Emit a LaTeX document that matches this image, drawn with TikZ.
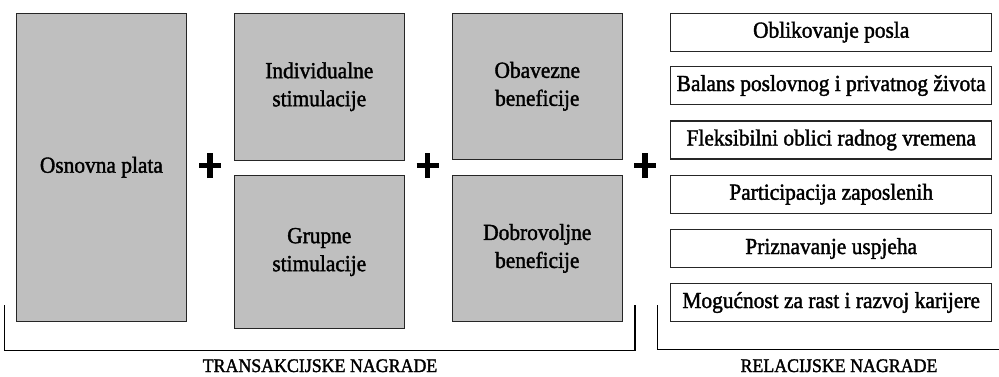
\documentclass[tikz,border=0pt]{standalone}
\usepackage{fontspec}
\setmainfont{Liberation Serif}[FakeStretch=0.93,FakeBold=1.6]
\begin{document}
\begin{tikzpicture}[x=1pt,y=-1pt,
  graybox/.style={draw=black!85,line width=1.1pt,fill=black!25,align=center,inner sep=0pt,
    font=\fontsize{23}{28}\selectfont},
  wbox/.style={draw=black!85,line width=1.1pt,fill=white,inner sep=0pt,minimum width=321pt,minimum height=38pt,
    font=\fontsize{23}{28}\selectfont},
  plusmark/.style={line width=5.5pt,black},
  bracketline/.style={line width=1.5pt,black},
  lbl/.style={anchor=base,inner sep=0pt,font=\fontsize{19.2}{22}\selectfont}]
\useasboundingbox (0,0) rectangle (999,376);
% transactional boxes
\node[graybox,minimum width=169.3pt,minimum height=307.7pt] (osn) at (101.4,167.2) {Osnovna plata};
\node[graybox,minimum width=170pt,minimum height=146.7pt] (ind) at (319.3,86.7) {Individualne\\stimulacije};
\node[graybox,minimum width=170pt,minimum height=152.6pt] (grp) at (319.3,252) {Grupne\\stimulacije};
\node[graybox,minimum width=170pt,minimum height=146pt] (oba) at (537.3,86.3) {Obavezne\\beneficije};
\node[graybox,minimum width=170pt,minimum height=145.3pt] (dob) at (537.3,248.4) {Dobrovoljne\\beneficije};
% relational boxes
\node[wbox] (r1) at (831.2,32.2) {Oblikovanje posla};
\node[wbox] (r2) at (831.2,85.5) {Balans poslovnog i privatnog života};
\node[wbox] (r3) at (831.2,140) {Fleksibilni oblici radnog vremena};
\node[wbox] (r4) at (831.2,194.2) {Participacija zaposlenih};
\node[wbox] (r5) at (831.2,248.5) {Priznavanje uspjeha};
\node[wbox] (r6) at (831.2,302.5) {Mogućnost za rast i razvoj karijere};
% plus signs
\coordinate (p1) at (210,165.5);
\coordinate (p2) at (427.5,165.5);
\coordinate (p3) at (645,165.5);
\foreach \p in {p1,p2,p3}{
  \draw[plusmark] ([xshift=-11pt]\p) -- ([xshift=11pt]\p);
  \draw[plusmark] ([yshift=-12.5pt]\p) -- ([yshift=12.5pt]\p);
}
% brackets
\coordinate (ta) at (4.7,305);
\coordinate (tb) at (4.7,350.5);
\coordinate (tc) at (635,350.5);
\coordinate (td) at (635,305);
\draw[bracketline] (ta) -- (tb) -- (tc) -- (td);
\coordinate (ra) at (657.7,305);
\coordinate (rb) at (657.7,349.5);
\coordinate (rc) at (999,349.5);
\draw[bracketline] (ra) -- (rb) -- (rc);
% labels
\node[lbl] (tl) at (320,372) {TRANSAKCIJSKE NAGRADE};
\node[lbl] (rl) at (839,372) {RELACIJSKE NAGRADE};
\end{tikzpicture}
\end{document}
